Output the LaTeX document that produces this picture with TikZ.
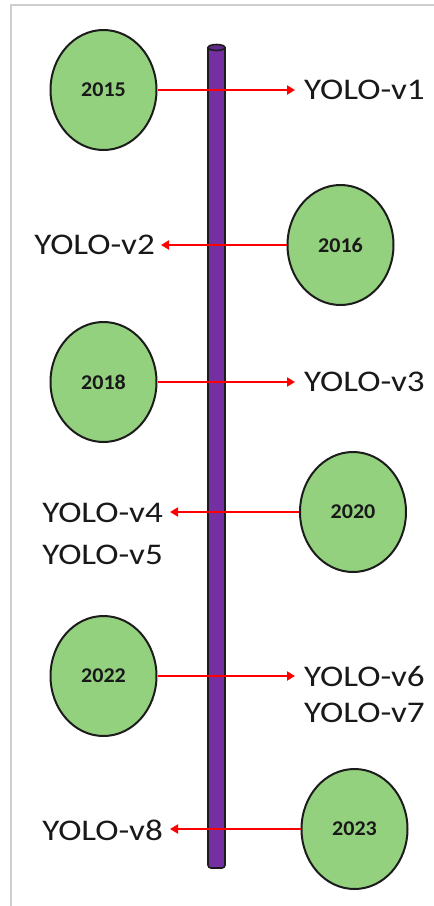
\documentclass[tikz,border=0pt]{standalone}
\usepackage{fontspec}
\setmainfont{Carlito}
\newfontfamily\labelfont[FakeStretch=1.17]{Carlito}
\newfontfamily\yearfont[FakeStretch=1.05]{Carlito}
\usetikzlibrary{arrows.meta,shapes.geometric}
\definecolor{yeargreen}{HTML}{93D17F}
\definecolor{barpurple}{HTML}{7430A2}
\definecolor{framegray}{HTML}{CFCFCF}
\definecolor{outline}{HTML}{1C1C1C}
\tikzset{
  year/.style={ellipse, draw=outline, line width=2pt, fill=yeargreen,
    minimum width=106pt, minimum height=120pt, inner sep=0pt,
    font=\yearfont\bfseries\fontsize{21}{24}\selectfont, text=black!90},
  version/.style={inner sep=0pt, font=\labelfont\fontsize{30}{34}\selectfont, text=black!90},
  link/.style={draw=red, line width=2.6pt, -{Triangle[length=8pt,width=9pt]}}
}
\begin{document}
\begin{tikzpicture}[x=1pt,y=-1pt]
\useasboundingbox (0,0) rectangle (434,906);
% page edge
\draw[framegray, line width=1.5pt] (11,906) -- (11,5) -- (434,5);

% timeline bar
\draw[outline, line width=1.6pt, fill=barpurple, rounded corners=3pt]
  (208,47.5) -- (208,868) -- (225,868) -- (225,47.5);
\draw[outline, line width=1.6pt, fill=barpurple!85!black] (216.5,47.5) ellipse [x radius=8.5pt, y radius=3pt];

% years
\node[year] (y15) at (103.5,90) {2015};
\node[year] (y16) at (340.5,245) {2016};
\node[year] (y18) at (103.5,382) {2018};
\node[year] (y20) at (353,512) {2020};
\node[year] (y22) at (103.5,676) {2022};
\node[year] (y23) at (354.5,829) {2023};

% versions
\node[version, anchor=west] (v1) at (304,90) {YOLO-v1};
\node[version, anchor=east] (v2) at (155,245) {YOLO-v2};
\node[version, anchor=west] (v3) at (304,382) {YOLO-v3};
\node[version, anchor=east] (v4) at (163,513) {YOLO-v4};
\node[version, anchor=east] (v5) at (163,555) {YOLO-v5};
\node[version, anchor=west] (v6) at (304,676) {YOLO-v6};
\node[version, anchor=west] (v7) at (304,713) {YOLO-v7};
\node[version, anchor=east] (v8) at (163,830) {YOLO-v8};

% connectors, kept level with each year
\draw[link] (y15.east) -- ([xshift=-9pt]y15.east -| v1.west);
\draw[link] (y16.west) -- ([xshift=6pt]y16.west -| v2.east);
\draw[link] (y18.east) -- ([xshift=-9pt]y18.east -| v3.west);
\draw[link] (y20.west) -- ([xshift=7pt]y20.west -| v4.east);
\draw[link] (y22.east) -- ([xshift=-9pt]y22.east -| v6.west);
\draw[link] (y23.west) -- ([xshift=7pt]y23.west -| v8.east);
\end{tikzpicture}
\end{document}
